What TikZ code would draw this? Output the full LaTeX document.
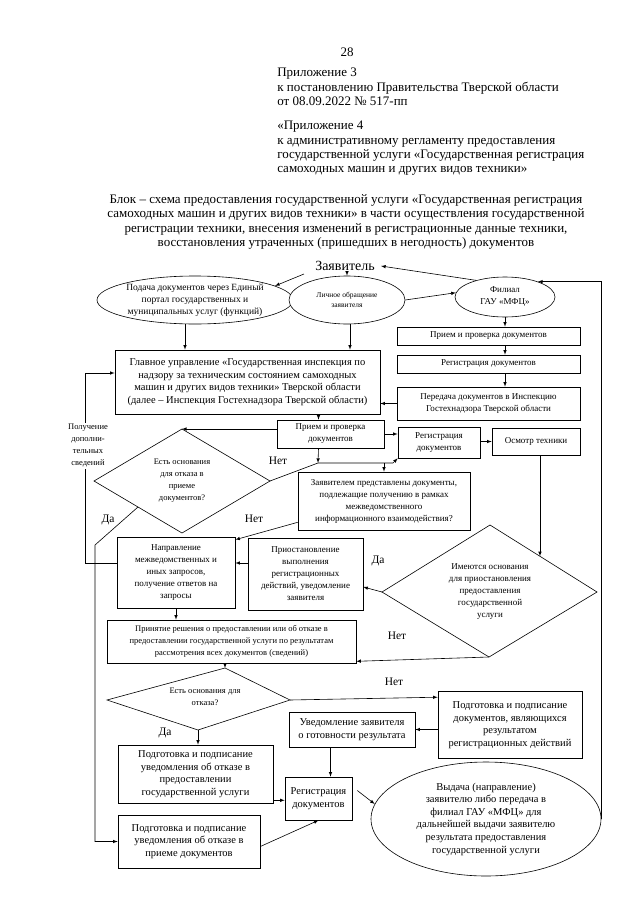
\documentclass[tikz,border=0pt]{standalone}
\usepackage{fontspec}
\setmainfont{Liberation Serif}
\usetikzlibrary{calc}
\usetikzlibrary{arrows}
\usetikzlibrary{shapes.geometric}
\newcommand{\fhead}{\fontsize{13}{14.3}\selectfont}
\newcommand{\fzay}{\fontsize{14}{16}\selectfont}
\newcommand{\fbig}{\fontsize{10.5}{12.6}\selectfont}
\newcommand{\fmid}{\fontsize{9.5}{12}\selectfont}
\newcommand{\fsmall}{\fontsize{9}{12}\selectfont}
\newcommand{\fdia}{\fontsize{8.5}{12}\selectfont}
\newcommand{\ftiny}{\fontsize{7.5}{10}\selectfont}
\newcommand{\flab}{\fontsize{11.5}{13}\selectfont}

\begin{document}
\begin{tikzpicture}[x=1pt,y=-1pt,>=latex,line width=0.6pt,
	box/.style={draw,rectangle,align=center,inner sep=0pt},
	oval/.style={draw,ellipse,align=center,inner sep=0pt},
	lbl/.style={font=\flab,inner sep=1pt}]
	\useasboundingbox (0,0) rectangle (640,905);
	% header
	\node[font=\fhead] (n28) at (347,52) {28};
	\node[anchor=north west,align=left,font=\fhead,inner sep=0pt] (hdr1) at (277,68) {Приложение 3\\к постановлению Правительства Тверской области\\от 08.09.2022 № 517-пп};
	\node[anchor=north west,align=left,font=\fhead,inner sep=0pt] (hdr2) at (277,121) {«Приложение 4\\к административному регламенту предоставления\\государственной услуги «Государственная регистрация\\самоходных машин и других видов техники»};
	\node[align=center,font=\fhead,inner sep=0pt] (title) at (346,222) {Блок – схема предоставления государственной услуги «Государственная регистрация\\самоходных машин и других видов техники» в части осуществления государственной\\регистрации техники, внесения изменений в регистрационные данные техники,\\восстановления утраченных (пришедших в негодность) документов};
	% top row
	\node[font=\fzay,inner sep=1pt] (zayav) at (345,266) {Заявитель};
	\node[oval,minimum width=196,minimum height=48,font=\fmid] (E1) at (195,300) {Подача документов через Единый\\портал государственных и\\муниципальных услуг (функций)};
	\node[oval,fill=white,minimum width=116,minimum height=48,font=\ftiny] (E2) at (347,300) {Личное обращение\\заявителя};
	\node[oval,minimum width=100,minimum height=40,font=\fsmall] (E3) at (505,297) {Филиал\\ГАУ «МФЦ»};
	% right column
	\node[box,minimum width=183,minimum height=18,font=\fsmall] (R1) at (488.5,336) {Прием и проверка документов};
	\node[box,minimum width=183,minimum height=18,font=\fsmall] (R2) at (488.5,364) {Регистрация документов};
	\node[box,minimum width=183,minimum height=33,font=\fsmall] (R3) at (488.5,403.5) {Передача документов в Инспекцию\\Гостехнадзора Тверской области};
	\node[box,minimum width=265,minimum height=64,font=\fbig] (M) at (247.5,382) {Главное управление «Государственная инспекция по\\надзору за техническим состоянием самоходных\\машин и других видов техники» Тверской области\\(далее – Инспекция Гостехнадзора Тверской области)};
	\node[box,minimum width=107,minimum height=28,font=\fsmall] (P) at (330.5,434) {Прием и проверка\\документов};
	\node[box,minimum width=82,minimum height=31,font=\fsmall] (R4) at (439,442.5) {Регистрация\\документов};
	\node[box,minimum width=88,minimum height=27,font=\fsmall] (R5) at (536,441.5) {Осмотр техники};
	\node[box,minimum width=172,minimum height=58,font=\fsmall] (Q) at (384,501) {Заявителем представлены документы,\\подлежащие получению в рамках\\межведомственного\\информационного взаимодействия?};
	% left feedback
	\coordinate (fbx) at (85,0);
	\node[box,minimum width=118,minimum height=71,font=\fsmall] (N) at (176,572.5) {Направление\\межведомственных и\\иных запросов,\\получение ответов на\\запросы};
	\draw[->] ($(N.west)+(0,-9)$) -| ($(fbx |- M.west)+(0,-9)$) -- ($(M.west)+(0,-9)$);
	\node[font=\fdia,fill=white,inner sep=1pt,align=center] (extra) at (88,446) {Получение\\дополни-\\тельных\\сведений};
	% diamond 1
	\coordinate (d1n) at (182,429);
	\coordinate (d1w) at (94,481);
	\coordinate (d1e) at (270,481);
	\coordinate (d1s) at (182,533);
	\draw[fill=white] (d1n) -- (d1e) -- (d1s) -- (d1w) -- cycle;
	\node[font=\fdia,align=center] (D1) at (182,481) {Есть основания\\для отказа в\\приеме\\документов?};
	\node[box,minimum width=115,minimum height=72,font=\fsmall] (S) at (305.5,574) {Приостановление\\выполнения\\регистрационных\\действий, уведомление\\заявителя};
	% diamond 2
	\coordinate (d2n) at (490,525);
	\coordinate (d2w) at (382,592);
	\coordinate (d2e) at (597,592);
	\coordinate (d2s) at (489,657);
	\draw (d2n) -- (d2e) -- (d2s) -- (d2w) -- cycle;
	\node[font=\fsmall,align=center] (D2) at (490,592) {Имеются основания\\для приостановления\\предоставления\\государственной\\услуги};
	\node[box,minimum width=249,minimum height=43,font=\fdia] (Z) at (231.5,641.5) {Принятие решения о предоставлении или об отказе в\\предоставлении государственной услуги по результатам\\рассмотрения всех документов (сведений)};
	% diamond 3
	\coordinate (d3n) at (225,668);
	\coordinate (d3w) at (107,700);
	\coordinate (d3e) at (290,700);
	\coordinate (d3s) at (198,730);
	\draw (d3n) -- (d3e) -- (d3s) -- (d3w) -- cycle;
	\node[font=\fdia,align=center] (D3) at (205,697) {Есть основания для\\отказа?};
	% bottom part
	\node[box,minimum width=144,minimum height=67,font=\fbig] (T) at (510,725) {Подготовка и подписание\\документов, являющихся\\результатом\\регистрационных действий};
	\node[box,minimum width=126,minimum height=35,font=\fbig] (U) at (352,729.5) {Уведомление заявителя\\о готовности результата};
	\node[box,minimum width=155,minimum height=58,font=\fbig] (B1) at (195.5,774) {Подготовка и подписание\\уведомления об отказе в\\предоставлении\\государственной услуги};
	\node[box,minimum width=67,minimum height=43,font=\fbig] (W) at (318.5,798.5) {Регистрация\\документов};
	\node[box,minimum width=142,minimum height=53,font=\fbig] (B2) at (189,841.5) {Подготовка и подписание\\уведомления об отказе в\\приеме документов};
	\node[oval,minimum width=230,minimum height=114,font=\fbig] (V) at (486,819) {Выдача (направление)\\заявителю либо передача в\\филиал ГАУ «МФЦ» для\\дальнейшей выдачи заявителю\\результата предоставления\\государственной услуги};
	% connectors
	\draw[->] ($(zayav.south west)+(-10,2)$) -- (E1.10);
	\draw[->] (zayav.south -| E2.north) -- (E2.north);
	\draw[->] (E3.150) -- ($(zayav.east)+(5,0)$);
	\draw[->] (E2.east) -- (E3.175);
	\draw[->] ($(E1.south)+(-10,0)$) -- ($(E1.south |- M.north)+(-10,0)$);
	\draw[->] ($(E2.south)+(3,0)$) -- ($(E2.south |- M.north)+(3,0)$);
	\coordinate (rx) at (505,0);
	\draw[->] (E3.south) -- (E3.south |- R1.north);
	\draw[->] (R1.south -| rx) -- (R2.north -| rx);
	\draw[->] (R2.south -| rx) -- (R3.north -| rx);
	\draw[->] (R3.west) -- (R3.west -| M.east);
	\draw[->] ($(P.north |- M.south)+(-12,0)$) -- ($(P.north)+(-12,0)$);
	\draw[->] (P.west |- d1n) -- (d1n);
	\draw[->] (P.east) -- (P.east -| R4.west);
	\draw[->] (R4.east |- R5.west) -- (R5.west);
	\coordinate (j1) at (318,463);
	\coordinate (j2) at (393,463);
	\draw[->] ($(P.south)+(-12,0)$) -- (j1);
	\draw (d1e) -- (j1) -- (j2);
	\draw[->] (j2) -- (R4.south west);
	\draw[->] (Q.north |- j1) -- (Q.north);
	\draw[->] ($(Q.south west)+(0,-8)$) -- ($(N.north east)+(0,3)$);
	\coordinate (dabend) at (95,545);
	\draw[->] ($(d1w)!0.5!(d1s)$) -- (dabend) |- (B2.west);
	\draw[->] ($(S.west)+(0,-11)$) -- ($(S.west -| N.east)+(0,-11)$);
	\draw[->] (d2w) -- ($(S.east)+(0,13)$);
	\coordinate (d2a) at ($(d2n)!0.467!(d2e)$);
	\draw[->] (R5.south -| d2a) -- (d2a);
	\draw[->] (d2s) -- ($(Z.south east)+(0,-2)$);
	\draw[->] (N.south) -- (N.south |- Z.north);
	\draw[->] (Z.south -| d3n) -- (d3n);
	\draw[->] (d3e) -- ($(T.north west)+(0,6)$);
	\draw[->] (d3s) -- (d3s |- B1.north);
	\draw[->] (T.west |- U.east) -- (U.east);
	\draw[->] ($(W.north |- U.south)+(12,0)$) -- ($(W.north)+(12,0)$);
	\draw[->] ($(B1.south east)+(0,-3)$) -- ($(B1.south east -| W.west)+(0,-3)$);
	\draw[->] ($(B2.east)+(0,5)$) -- (W.south);
	\draw[->] ($(W.east)+(5,-8)$) -- ($(V.west)+(4,-15)$);
	\coordinate (fbr) at (601,0);
	\draw[->] (V.east -| fbr) |- (E3.25);
	% labels
	\node[lbl] (no1) at (278,461) {Нет};
	\node[lbl] (yes1) at (108,520) {Да};
	\node[lbl] (no2) at (254,519) {Нет};
	\node[lbl] (yes2) at (378,561) {Да};
	\node[lbl] (no3) at (397,636) {Нет};
	\node[lbl] (no4) at (394,682) {Нет};
	\node[lbl] (yes3) at (165,733) {Да};
\end{tikzpicture}
\end{document}
